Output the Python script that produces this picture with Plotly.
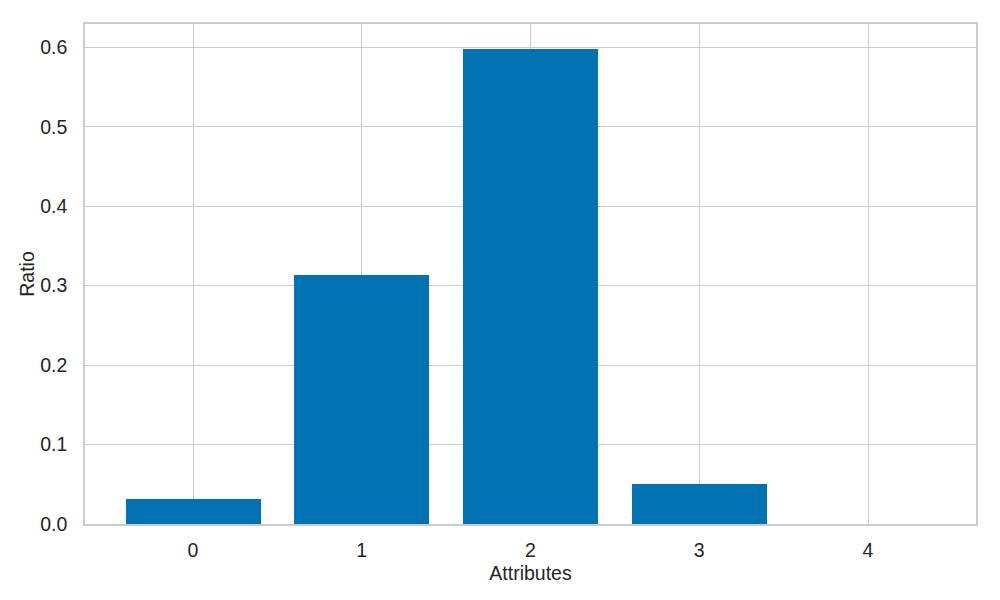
import plotly.graph_objects as go

attributes = [0, 1, 2, 3, 4]
ratios = [0.032, 0.314, 0.598, 0.050, 0.0]
x_ticks = [0, 1, 2, 3, 4]
y_ticks = [0.0, 0.1, 0.2, 0.3, 0.4, 0.5, 0.6]

BAR = "#0173b2"
GRID = "#cccccc"
TXT = "#262626"
FONT = "Liberation Sans, Arial, sans-serif"
FS = 19.5

fig = go.Figure(go.Bar(
    x=attributes, y=ratios, width=0.8,
    marker=dict(color=BAR, line=dict(width=0)),
))

# page body has an 8px margin; offset margins so the plot area matches
fig.update_layout(
    width=1000, height=600,
    margin=dict(l=77, r=32, t=16, b=84, autoexpand=False),
    paper_bgcolor="white", plot_bgcolor="white",
    font=dict(family=FONT, size=FS, color=TXT),
    showlegend=False,
    bargap=0,
)
fig.update_xaxes(
    range=[-0.64, 4.64], tickvals=x_ticks, ticktext=[str(t) for t in x_ticks],
    showgrid=True, gridcolor=GRID, gridwidth=1,
    showline=True, linecolor=GRID, linewidth=1.5, mirror=True,
    zeroline=False, ticks="", ticklabelstandoff=8,
    title=dict(text="Attributes", font=dict(size=FS, color=TXT), standoff=6),
)
fig.update_yaxes(
    range=[0, 0.6293], tickvals=y_ticks, tickformat=".1f",
    showgrid=True, gridcolor=GRID, gridwidth=1,
    showline=True, linecolor=GRID, linewidth=1.5, mirror=True,
    zeroline=False, ticks="", ticklabelstandoff=12,
    title=dict(text="Ratio", font=dict(size=FS, color=TXT), standoff=0),
)

fig.write_html("out.html")
